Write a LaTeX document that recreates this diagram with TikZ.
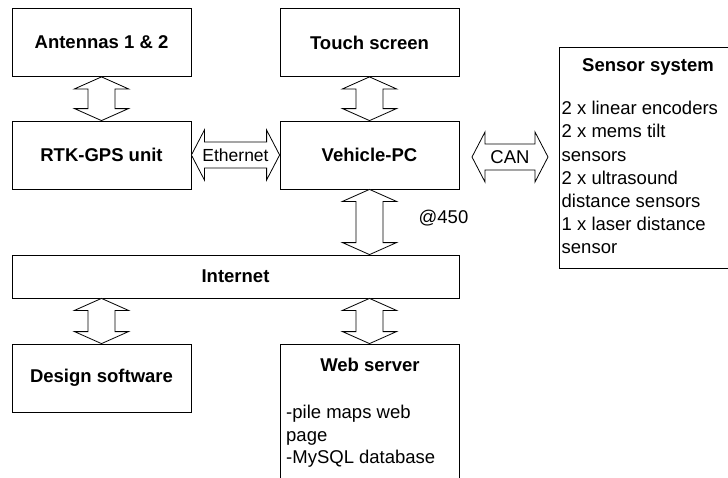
\documentclass[tikz,border=0pt]{standalone}
\usepackage{fontspec}
\setmainfont{Liberation Sans}
\usetikzlibrary{calc}
\tikzset{
  txt/.style={inner sep=0pt, font=\fontsize{18.5}{23}\selectfont},
  box/.style={draw, line width=0.8pt, inner sep=0pt, minimum width=179pt, minimum height=68pt,
              font=\fontsize{18.5}{23}\selectfont\bfseries},
  dblarr/.style={draw, line width=0.8pt, line join=miter, fill=white},
}
\newcommand\myVarrow[2]{%
  \draw[dblarr] (#1) -- ++(27,12) -- ++(-13.5,0) -- ($(#2)+(13.5,-12)$) -- ++(13.5,0) -- (#2)
     -- ++(-27,-12) -- ++(13.5,0) -- ($(#1)+(-13.5,12)$) -- ++(-13.5,0) -- cycle;}
\newcommand\myHarrow[2]{%
  \draw[dblarr] (#1) -- ++(13,-25) -- ++(0,12) -- ($(#2)+(-13,-13)$) -- ++(0,-12) -- (#2)
     -- ++(-13,25) -- ++(0,-12) -- ($(#1)+(13,13)$) -- ++(0,12) -- cycle;}
\begin{document}
\begin{tikzpicture}[x=1pt,y=-1pt]
\clip (0,0) rectangle (728,477);
\fill[white] (0,0) rectangle (728,477);
% boxes
\node[box] (ant) at (101.5,42.5) {Antennas 1 \& 2};
\node[box] (touch) at (369.5,42.5) {Touch screen};
\node[box] (rtk) at (101.5,155) {RTK-GPS unit};
\node[box] (pc) at (369.5,155) {Vehicle-PC};
\node[box, minimum width=447pt, minimum height=43pt] (net) at (235.5,276.5) {Internet};
\node[box] (design) at (101.5,378) {Design software};
\node[box, minimum height=146pt] (web) at (369.5,417) {};
\node[box, minimum width=181pt, minimum height=221pt] (sens) at (649.5,157.5) {};
% texts inside web server and sensor system
\node[txt, font=\fontsize{18.5}{23}\selectfont\bfseries, anchor=base] (webt) at (370,371.7) {Web server};
\node[txt, anchor=base west] (web1) at (286,418.5) {-pile maps web};
\node[txt, anchor=base west] (web2) at (286,441) {page};
\node[txt, anchor=base west] (web3) at (286,463.5) {-MySQL database};
\node[txt, font=\fontsize{18.5}{23}\selectfont\bfseries, anchor=base] (senst) at (648,71.7) {Sensor system};
\foreach \t [count=\i from 0] in {2 x linear encoders, 2 x mems tilt, sensors, 2 x ultrasound, distance sensors, 1 x laser distance, sensor}
  \node[txt, anchor=base west] (sl\i) at (561.5,114.7+23.15*\i) {\t};
% vertical double arrows
\myVarrow{ant.south}{rtk.north}
\myVarrow{touch.south}{pc.north}
\myVarrow{pc.south}{pc.south |- net.north}
\myVarrow{design.north |- net.south}{design.north}
\myVarrow{web.north |- net.south}{web.north}
% horizontal double arrows
\myHarrow{rtk.east}{pc.west}
\node[txt, font=\fontsize{17.5}{21}\selectfont] (eth) at ($(rtk.east)!0.5!(pc.west)$) {Ethernet};
\coordinate (canL) at (472,157);
\coordinate (canR) at (548,157);
\myHarrow{canL}{canR}
\node[txt] (can) at ($(canL)!0.5!(canR)$) {CAN};
\node[txt] (rate) at (443.5,218) {@450};
\end{tikzpicture}
\end{document}
